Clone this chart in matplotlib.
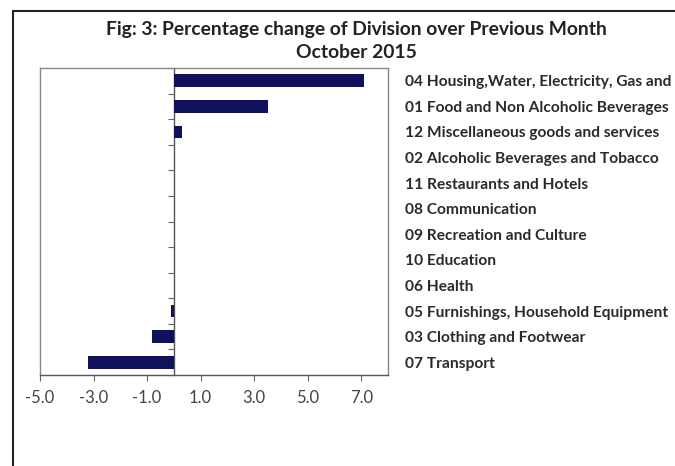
import matplotlib
matplotlib.use("Agg")
import matplotlib.pyplot as plt
from matplotlib.patches import Rectangle
import numpy as np

categories = [
    "04 Housing,Water, Electricity, Gas and",
    "01 Food and Non Alcoholic Beverages",
    "12 Miscellaneous goods and services",
    "02 Alcoholic Beverages and Tobacco",
    "11 Restaurants and Hotels",
    "08 Communication",
    "09 Recreation and Culture",
    "10 Education",
    "06 Health",
    "05 Furnishings, Household Equipment",
    "03 Clothing and Footwear",
    "07 Transport",
]
values = [7.1, 3.5, 0.3, 0.0, 0.0, 0.0, 0.0, 0.0, 0.0, -0.1, -0.8, -3.2]
xticks = [-5.0, -3.0, -1.0, 1.0, 3.0, 5.0, 7.0]
title_lines = ["Fig: 3: Percentage change of Division over Previous Month", "October 2015"]

plt.rcParams['font.family'] = ['Lato', 'DejaVu Sans']

fig = plt.figure(figsize=(6.75, 4.66), dpi=100)
ax = fig.add_axes([40/675, 1-375/466, 348/675, 307/466])

y = np.arange(len(categories))
ax.barh(y, values, height=0.5, color='#10115c', linewidth=0, zorder=3)
ax.set_xlim(-5, 8)
ax.set_ylim(len(categories)-0.5, -0.5)

ax.set_xticks(xticks)
ax.set_xticklabels([f"{v:.1f}" for v in xticks], fontsize=12, color='#444444')
ax.tick_params(axis='x', direction='out', length=4, width=0.8, color='#666666', pad=7)

ax.set_yticks(y)
ax.set_yticklabels(categories, fontsize=11.2, fontweight='bold', color='#2a2a2a')
ax.tick_params(axis='y', left=False, right=False, labelleft=False, labelright=True, pad=9)

for s in ['left', 'right', 'top']:
    ax.spines[s].set_color('#888888')
    ax.spines[s].set_linewidth(1.0)
ax.spines['bottom'].set_color('#555555')
ax.spines['bottom'].set_linewidth(1.0)

# category axis crossing at zero
sec = ax.secondary_yaxis(0, transform=ax.transData)
sec.set_yticks(np.arange(-0.5, len(categories)+0.5, 1.0))
sec.set_yticklabels([])
sec.tick_params(axis='y', direction='out', length=4, width=0.8, color='#666666')
sec.spines['left'].set_color('#555555')
sec.spines['left'].set_linewidth(1.0)

fig.text(356/675, 1-30/466, title_lines[0], ha='center', va='center', fontsize=13.9, fontweight='bold', color='#222222')
fig.text(356/675, 1-52/466, title_lines[1], ha='center', va='center', fontsize=13.9, fontweight='bold', color='#222222')

fig.patches.append(Rectangle((13/675, -0.1), 1.2, 1.1 - 11/466, transform=fig.transFigure,
                             fill=False, edgecolor='#222222', linewidth=1.5, figure=fig))

fig.savefig("out.png", dpi=100)
